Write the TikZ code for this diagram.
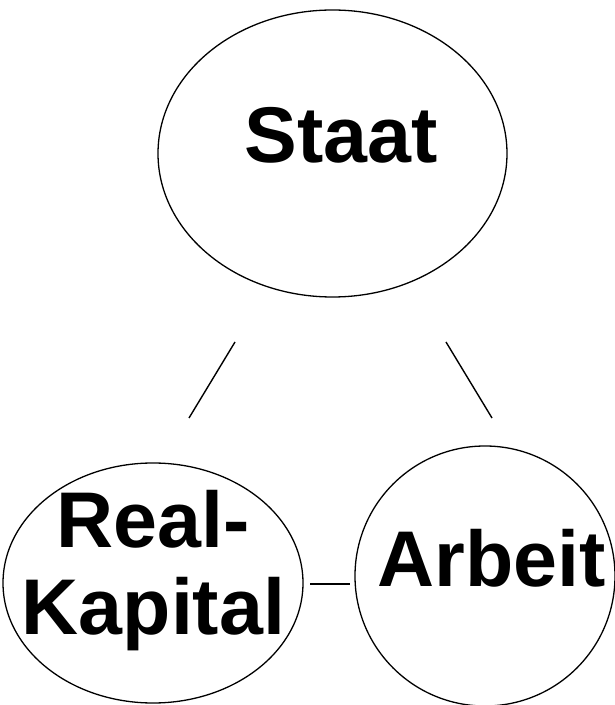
\documentclass[tikz,border=0pt]{standalone}
\usepackage{fontspec}
\setmainfont{Liberation Sans}
\usetikzlibrary{shapes.geometric}
\begin{document}
\begin{tikzpicture}[x=1pt,y=1pt,
  oval/.style={draw, ellipse, line width=1.3pt, inner sep=0pt},
  lbl/.style={font=\fontsize{79}{87}\selectfont\bfseries, inner sep=0pt, align=center},
  conn/.style={line width=1.4pt}]
\useasboundingbox (0,0) rectangle (615,705);
\node[oval, minimum width=349pt, minimum height=287pt] (staat) at (332.5,551.5) {};
\node[oval, minimum width=300pt, minimum height=240pt] (kapital) at (153,122) {};
\node[oval, minimum width=260pt, minimum height=260pt] (arbeit) at (485,129) {};
\node[lbl, anchor=base] (tstaat) at (341,542) {Staat};
\node[lbl, anchor=base] (tarbeit) at (492,118) {Arbeit};
\node[lbl, anchor=base] (tkap2) at (153.5,70) {Kapital};
\node[lbl, anchor=base] (tkap1) at (153,157) {Real-};
\coordinate (a1) at (235,363);
\coordinate (a2) at (189,287);
\coordinate (b1) at (446,363);
\coordinate (b2) at (492,287);
\coordinate (c1) at (310,121);
\coordinate (c2) at (350,121);
\draw[conn] (a1) -- (a2);
\draw[conn] (b1) -- (b2);
\draw[conn] (c1) -- (c2);
\end{tikzpicture}
\end{document}
